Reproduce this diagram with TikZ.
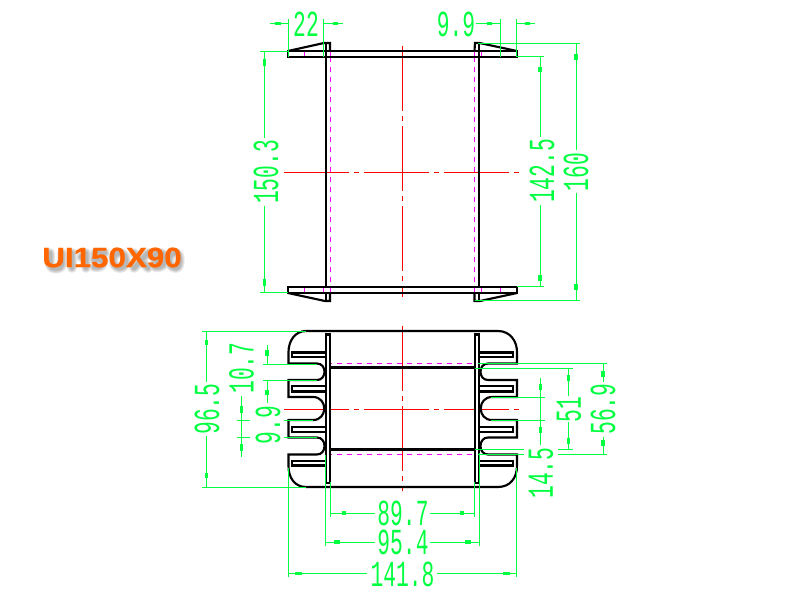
\documentclass[tikz,border=0pt]{standalone}
\usepackage{fontspec}
\newfontfamily\dimfont[FakeStretch=0.58]{Liberation Mono}
\newfontfamily\labfont[FakeStretch=1.12,FakeBold=0.7]{Liberation Sans Bold}
\definecolor{dimgreen}{HTML}{00FF40}
\definecolor{cadred}{HTML}{FF0000}
\definecolor{hidmag}{HTML}{FF00FF}
\definecolor{laborange}{HTML}{FF6600}
\tikzset{
  part/.style={draw=black,line width=1.6pt,line join=miter},
  center line/.style={draw=cadred,line width=0.75pt,dash pattern=on 48.75pt off 3.75pt on 3.75pt off 3.75pt},
  hidden line/.style={draw=hidmag,line width=0.75pt,dash pattern=on 3.75pt off 3.75pt},
  hidden tick/.style={draw=hidmag,line width=0.75pt},
  dimline/.style={draw=dimgreen,line width=0.75pt},
  headbar/.style={draw=dimgreen,line width=2.4pt},
  dimtext/.style={text=dimgreen,font=\dimfont\fontsize{27.5}{27.5}\selectfont,inner sep=0pt},
  dimv/.style={dimtext,rotate=90},
  labtext/.style={font=\labfont\fontsize{21}{21}\selectfont,inner sep=0pt},
  softshadow/.style={draw=black,opacity=0.08,line cap=round,line join=round},
}
\begin{document}
\begin{tikzpicture}[x=0.75pt,y=-0.75pt]
\useasboundingbox (0,0) rectangle (800,600);
\fill[white] (0,0) rectangle (800,600);

% ---- centre lines
\draw[center line] (402.3,46) -- (402.3,297);
\draw[center line] (284,172.3) -- (519,172.3);
\draw[center line] (402.3,326) -- (402.3,491);
\draw[center line] (284,409.3) -- (519,409.3);

% ---- hidden lines
\draw[hidden line] (330.5,57) -- (330.5,287);
\draw[hidden line] (474.5,57) -- (474.5,287);
\foreach \x in {304.5,323.5,330.5,474.5,481.5,500}{
  \draw[hidden tick] (\x,51) -- (\x,57);
  \draw[hidden tick] (\x,287) -- (\x,293);
}
\draw[hidden line] (327,363.5) -- (479,363.5);
\draw[hidden line] (327,454.5) -- (479,454.5);

% ---- top view
\draw[part] (288,51) rectangle (517,57);
\draw[part] (288,287) rectangle (517,293);
\draw[part] (326,57) -- (326,287);
\draw[part] (479,57) -- (479,287);
\draw[part] (288,51) -- (324,43) -- (330,43) -- (330,51);
\draw[part] (326,43) -- (326,57);
\draw[part] (517,51) -- (479.5,43) -- (475,43) -- (474.5,51);
\draw[part] (479,43) -- (479,57);
\draw[part] (288,293) -- (325,301) -- (330,301) -- (330,293);
\draw[part] (326,293) -- (326,301);
\draw[part] (517,293) -- (480,301) -- (474.5,301) -- (474.5,293);
\draw[part] (479,293) -- (479,301);

% ---- bottom view
\draw[part] (306,331) -- (498,331) .. controls (510,331) and (517,341) .. (517,352) -- (517,363.5) -- (488,363.5)
  .. controls (478,363.5) and (478,380) .. (488,380) -- (517,380) -- (517,397) -- (492,397)
  .. controls (477,397) and (477,420) .. (492,420) -- (517,420) -- (517,437.5) -- (488,437.5)
  .. controls (478,437.5) and (478,454.5) .. (488,454.5) -- (517,454.5) -- (517,466)
  .. controls (517,478) and (510,487) .. (498,487) -- (306,487)
  .. controls (295,487) and (288.5,478) .. (288.5,466) -- (288.5,454.5) -- (317,454.5)
  .. controls (327,454.5) and (327,437.5) .. (317,437.5) -- (288.5,437.5) -- (288.5,420) -- (313,420)
  .. controls (328,420) and (328,397) .. (313,397) -- (288.5,397) -- (288.5,380) -- (317,380)
  .. controls (327,380) and (327,363.5) .. (317,363.5) -- (288.5,363.5) -- (288.5,352)
  .. controls (288.5,341) and (295,331) .. (306,331) -- cycle;
\draw[part,fill=white] (326,334.5) rectangle (330,483);
\draw[part,fill=white] (475,334.5) rectangle (479.3,483);
\draw[part] (330,367.5) -- (475,367.5);
\draw[part] (330,449.5) -- (475,449.5);
\foreach \a/\b in {352.5/357,386/391.5,427/432,461/465.5}{
  \draw[part] (326,\a) -- (292,\a) -- (292,\b) -- (326,\b);
  \draw[part] (479,\a) -- (513,\a) -- (513,\b) -- (479,\b);
}

% ---- dimensions: top view
\draw[dimline] (288.5,19) -- (288.5,57);
\draw[dimline] (323.5,19) -- (323.5,57);
\draw[dimline] (270,23.3) -- (288.5,23.3);
\draw[dimline] (323.5,23.3) -- (343,23.3);
\draw[headbar] (275,23.3) -- (281,23.3);
\draw[headbar] (333,23.3) -- (338,23.3);
\node[dimtext] (d22) at (306,24) {22};

\draw[dimline] (500,19) -- (500,57);
\draw[dimline] (516.5,19) -- (516.5,57);
\draw[dimline] (476,23.3) -- (500,23.3);
\draw[dimline] (516.5,23.3) -- (535,23.3);
\draw[headbar] (487,23.3) -- (492,23.3);
\draw[headbar] (525,23.3) -- (530,23.3);
\node[dimtext] (d99a) at (456,24) {9.9};

\draw[dimline] (260,51) -- (288,51);
\draw[dimline] (260,292.7) -- (288,292.7);
\draw[dimline] (264.5,51) -- (264.5,138);
\draw[dimline] (264.5,206) -- (264.5,292.7);
\draw[headbar] (264.5,59) -- (264.5,66);
\draw[headbar] (264.5,279) -- (264.5,286);
\node[dimv] (d150) at (266,172) {150.3};

\draw[dimline] (517,56.7) -- (544,56.7);
\draw[dimline] (517,286.7) -- (544,286.7);
\draw[dimline] (540,56.7) -- (540,137);
\draw[dimline] (540,205) -- (540,286.7);
\draw[headbar] (540,67) -- (540,72);
\draw[headbar] (540,275) -- (540,281);
\node[dimv] (d142) at (542,171) {142.5};

\draw[dimline] (478,43.3) -- (580,43.3);
\draw[dimline] (474.5,300.7) -- (580,300.7);
\draw[dimline] (576,43.3) -- (576,150);
\draw[dimline] (576,193) -- (576,300.7);
\draw[headbar] (576,54) -- (576,60);
\draw[headbar] (576,284) -- (576,290);
\node[dimv] (d160) at (576,172) {160};

% ---- dimensions: bottom view, left
\draw[dimline] (202,331) -- (306,331);
\draw[dimline] (202,487) -- (306,487);
\draw[dimline] (206.5,331) -- (206.5,382);
\draw[dimline] (206.5,436) -- (206.5,487);
\draw[headbar] (206.5,340) -- (206.5,345);
\draw[headbar] (206.5,473) -- (206.5,478);
\node[dimv] (d96) at (207,409) {96.5};

\draw[dimline] (263,364) -- (317,364);
\draw[dimline] (263,380) -- (317,380);
\draw[dimline] (267,345) -- (267,364);
\draw[dimline] (267,380) -- (267,403);
\draw[headbar] (267,350) -- (267,356);
\draw[headbar] (267,390) -- (267,395);
\node[dimv] (d107) at (241.5,368) {10.7};

\draw[dimline] (237,420) -- (250,420);
\draw[dimline] (237,437.5) -- (250,437.5);
\draw[dimline] (284,420) -- (313,420);
\draw[dimline] (284,437.5) -- (317,437.5);
\draw[dimline] (241.5,396) -- (241.5,456.5);
\draw[headbar] (241.5,406) -- (241.5,413);
\draw[headbar] (241.5,444) -- (241.5,451);
\node[dimv] (d99b) at (268,425) {9.9};

% ---- dimensions: bottom view, right
\draw[dimline] (491,397) -- (545,397);
\draw[dimline] (491,420) -- (545,420);
\draw[dimline] (540.5,378) -- (540.5,445);
\draw[headbar] (540.5,384) -- (540.5,390);
\draw[headbar] (540.5,427) -- (540.5,433);
\node[dimv] (d145) at (541,473) {14.5};

\draw[dimline] (475,368) -- (573,368);
\draw[dimline] (475,449.5) -- (523.5,449.5);
\draw[dimline] (558,449.5) -- (573,449.5);
\draw[dimline] (568.5,368) -- (568.5,396);
\draw[dimline] (568.5,422) -- (568.5,449.5);
\draw[headbar] (568.5,375) -- (568.5,381);
\draw[headbar] (568.5,438) -- (568.5,444);
\node[dimv] (d51) at (569,409.5) {51};

\draw[dimline] (478,363.5) -- (607,363.5);
\draw[dimline] (478,454.5) -- (523.5,454.5);
\draw[dimline] (558,454.5) -- (607,454.5);
\draw[dimline] (603,363.5) -- (603,382);
\draw[dimline] (603,437) -- (603,454.5);
\draw[headbar] (603,371) -- (603,377);
\draw[headbar] (603,440) -- (603,446);
\node[dimv] (d569) at (603,409) {56.9};

% ---- dimensions: bottom view, below
\draw[dimline] (288.5,468) -- (288.5,577);
\draw[dimline] (516.5,468) -- (516.5,577);
\draw[dimline] (325.5,455) -- (325.5,546);
\draw[dimline] (479,453) -- (479,546);
\draw[dimline] (330.5,482) -- (330.5,517);
\draw[dimline] (474.5,482) -- (474.5,517);

\draw[dimline] (330.5,513) -- (375,513);
\draw[dimline] (430,513) -- (474.5,513);
\draw[headbar] (342,513) -- (346,513);
\draw[headbar] (460,513) -- (464,513);
\node[dimtext] (d897) at (403,513.5) {89.7};

\draw[dimline] (325.5,542) -- (375,542);
\draw[dimline] (430,542) -- (479,542);
\draw[headbar] (334,542) -- (340,542);
\draw[headbar] (465,542) -- (471,542);
\node[dimtext] (d954) at (403,542.5) {95.4};

\draw[dimline] (288.5,573.5) -- (367,573.5);
\draw[dimline] (437,573.5) -- (516.5,573.5);
\draw[headbar] (295,573.5) -- (302,573.5);
\draw[headbar] (503,573.5) -- (510,573.5);
\node[dimtext] (d141) at (402.5,574) {141.8};

% ---- title: soft shadow drawn as strokes, then the text
\foreach \w in {7.5pt,6pt,4.5pt,3pt}{
  \begin{scope}[shift={(3,3)}]
  \draw[softshadow,line width=\w]
    (47,250) -- (47,262) .. controls (47,267) and (59,267) .. (59,262) -- (59,250)
    (69,250) -- (69,265)
    (78,254) -- (83,250) -- (83,265)
    (102,250) -- (92,250) -- (91,257) .. controls (103,254) and (103,266) .. (91,264)
    (117,250) .. controls (108,250) and (108,265) .. (117,265) .. controls (125,265) and (125,250) .. (117,250)
    (131,250) -- (145,265) (145,250) -- (131,265)
    (162,256) .. controls (162,247) and (151,248) .. (151,255) .. controls (151,261) and (162,261) .. (162,256) .. controls (162,262) and (159,265) .. (152,264)
    (173,250) .. controls (164,250) and (164,265) .. (173,265) .. controls (178,265) and (178,250) .. (173,250);
  \end{scope}
}
\node[labtext,text=laborange] (title) at (112,257.5) {UI150X90};
\end{tikzpicture}
\end{document}
